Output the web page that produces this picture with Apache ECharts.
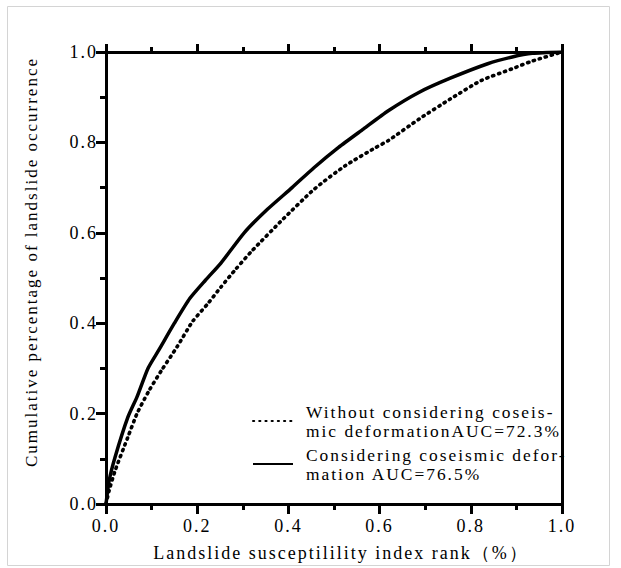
<!DOCTYPE html>
<html>
<head>
<meta charset="utf-8">
<script src="https://cdn.jsdelivr.net/npm/echarts@6/dist/echarts.min.js"></script>
<style>
  html, body { margin: 0; padding: 0; background: #fff; }
  #chart { width: 621px; height: 568px; }
  /* the reference typesetting is letter-spaced */
  #chart text { letter-spacing: 2px; }
</style>
</head>
<body>
<div id="chart"></div>
<script>
// curve with coseismic deformation (solid)
const xSolid = [0, 0.007, 0.02, 0.048, 0.068, 0.092, 0.116, 0.15, 0.184, 0.218, 0.252, 0.303, 0.354, 0.408, 0.456, 0.51, 0.565, 0.619, 0.687, 0.755, 0.837, 0.891, 0.935, 1];
const ySolid = [0, 0.052, 0.104, 0.192, 0.237, 0.3, 0.341, 0.4, 0.455, 0.495, 0.533, 0.6, 0.652, 0.7, 0.744, 0.789, 0.83, 0.87, 0.911, 0.942, 0.974, 0.989, 0.997, 1];

// curve without coseismic deformation (dotted)
const xDotted = [0, 0.007, 0.02, 0.048, 0.068, 0.095, 0.122, 0.156, 0.19, 0.224, 0.252, 0.285, 0.32, 0.388, 0.456, 0.524, 0.592, 0.619, 0.687, 0.755, 0.823, 0.891, 0.932, 1];
const yDotted = [0, 0.03, 0.074, 0.148, 0.2, 0.252, 0.296, 0.348, 0.404, 0.444, 0.48, 0.52, 0.56, 0.63, 0.696, 0.748, 0.789, 0.804, 0.852, 0.896, 0.937, 0.963, 0.979, 1];

const seriesNames = ['Without', 'Considering'];
const legendLabels = [
  'Without considering coseis-\nmic deformationAUC=72.3%',
  'Considering coseismic defor-\nmation AUC=76.5%'
];

const xName = 'Landslide susceptilility index rank（%）';
const yName = 'Cumulative percentage of landslide occurrence';

const font = 'Liberation Serif';
const ink = '#000';

const pairs = (xs, ys) => xs.map((x, i) => [x, ys[i]]);

const chart = echarts.init(document.getElementById('chart'), null, { renderer: 'svg' });

const frameLine = { show: true, onZero: false, lineStyle: { color: ink, width: 3 } };
const tickStyle = { color: ink, width: 3 };

chart.setOption({
  animation: false,
  backgroundColor: '#fff',
  graphic: [{
    type: 'rect',
    left: 5, top: 4,
    shape: { width: 602, height: 559 },
    style: { fill: 'none', stroke: '#d4d4d4', lineWidth: 1 },
    silent: true
  }],
  grid: { left: 106, right: 59, top: 52, bottom: 64 },
  xAxis: [
    {
      type: 'value',
      position: 'bottom',
      min: 0,
      max: 1,
      interval: 0.2,
      axisLine: frameLine,
      axisTick: { show: true, inside: false, length: 10, lineStyle: tickStyle },
      minorTick: { show: true, splitNumber: 2, length: 6, lineStyle: tickStyle },
      splitLine: { show: false },
      minorSplitLine: { show: false },
      axisLabel: {
        color: ink, fontFamily: font, fontSize: 18, margin: 13,
        formatter: v => v.toFixed(1)
      },
      name: xName,
      nameLocation: 'middle',
      nameGap: 40,
      nameTextStyle: { color: ink, fontFamily: font, fontSize: 18, padding: [0, 0, 0, 14] }
    },
    {
      type: 'value',
      position: 'top',
      min: 0,
      max: 1,
      interval: 0.2,
      axisLine: frameLine,
      axisTick: { show: true, inside: false, length: 8, lineStyle: tickStyle },
      minorTick: { show: true, splitNumber: 2, length: 5, lineStyle: tickStyle },
      splitLine: { show: false },
      axisLabel: { show: false }
    }
  ],
  yAxis: [
    {
      type: 'value',
      position: 'left',
      min: 0,
      max: 1,
      interval: 0.2,
      axisLine: frameLine,
      axisTick: { show: true, inside: false, length: 10, lineStyle: tickStyle },
      minorTick: { show: true, splitNumber: 2, length: 6, lineStyle: tickStyle },
      splitLine: { show: false },
      minorSplitLine: { show: false },
      axisLabel: {
        color: ink, fontFamily: font, fontSize: 18, margin: 8,
        formatter: v => v.toFixed(1)
      },
      name: yName,
      nameLocation: 'middle',
      nameGap: 66,
      nameTextStyle: { color: ink, fontFamily: font, fontSize: 17, padding: [0, 0, 0, 32] }
    },
    {
      type: 'value',
      position: 'right',
      min: 0,
      max: 1,
      axisLine: frameLine,
      axisTick: { show: false },
      splitLine: { show: false },
      axisLabel: { show: false }
    }
  ],
  legend: {
    orient: 'vertical',
    left: 252,
    top: 402,
    padding: 0,
    itemWidth: 40,
    itemHeight: 10,
    itemGap: 5,
    data: seriesNames,
    itemStyle: { opacity: 0 },
    formatter: name => legendLabels[seriesNames.indexOf(name)],
    textStyle: { color: ink, fontFamily: font, fontSize: 17.4, lineHeight: 19, padding: [0, 0, 0, 8] }
  },
  series: [
    {
      name: seriesNames[0],
      type: 'line',
      xAxisIndex: 0,
      yAxisIndex: 0,
      showSymbol: false,
      symbol: 'none',
      smooth: 0.2,
      data: pairs(xDotted, yDotted),
      lineStyle: { color: ink, width: 3.6, type: [1.2, 5], cap: 'round' },
      itemStyle: { color: ink }
    },
    {
      name: seriesNames[1],
      type: 'line',
      xAxisIndex: 0,
      yAxisIndex: 0,
      showSymbol: false,
      symbol: 'none',
      smooth: 0.2,
      data: pairs(xSolid, ySolid),
      lineStyle: { color: ink, width: 3.5, type: 'solid' },
      itemStyle: { color: ink }
    }
  ]
});
</script>
</body>
</html>
